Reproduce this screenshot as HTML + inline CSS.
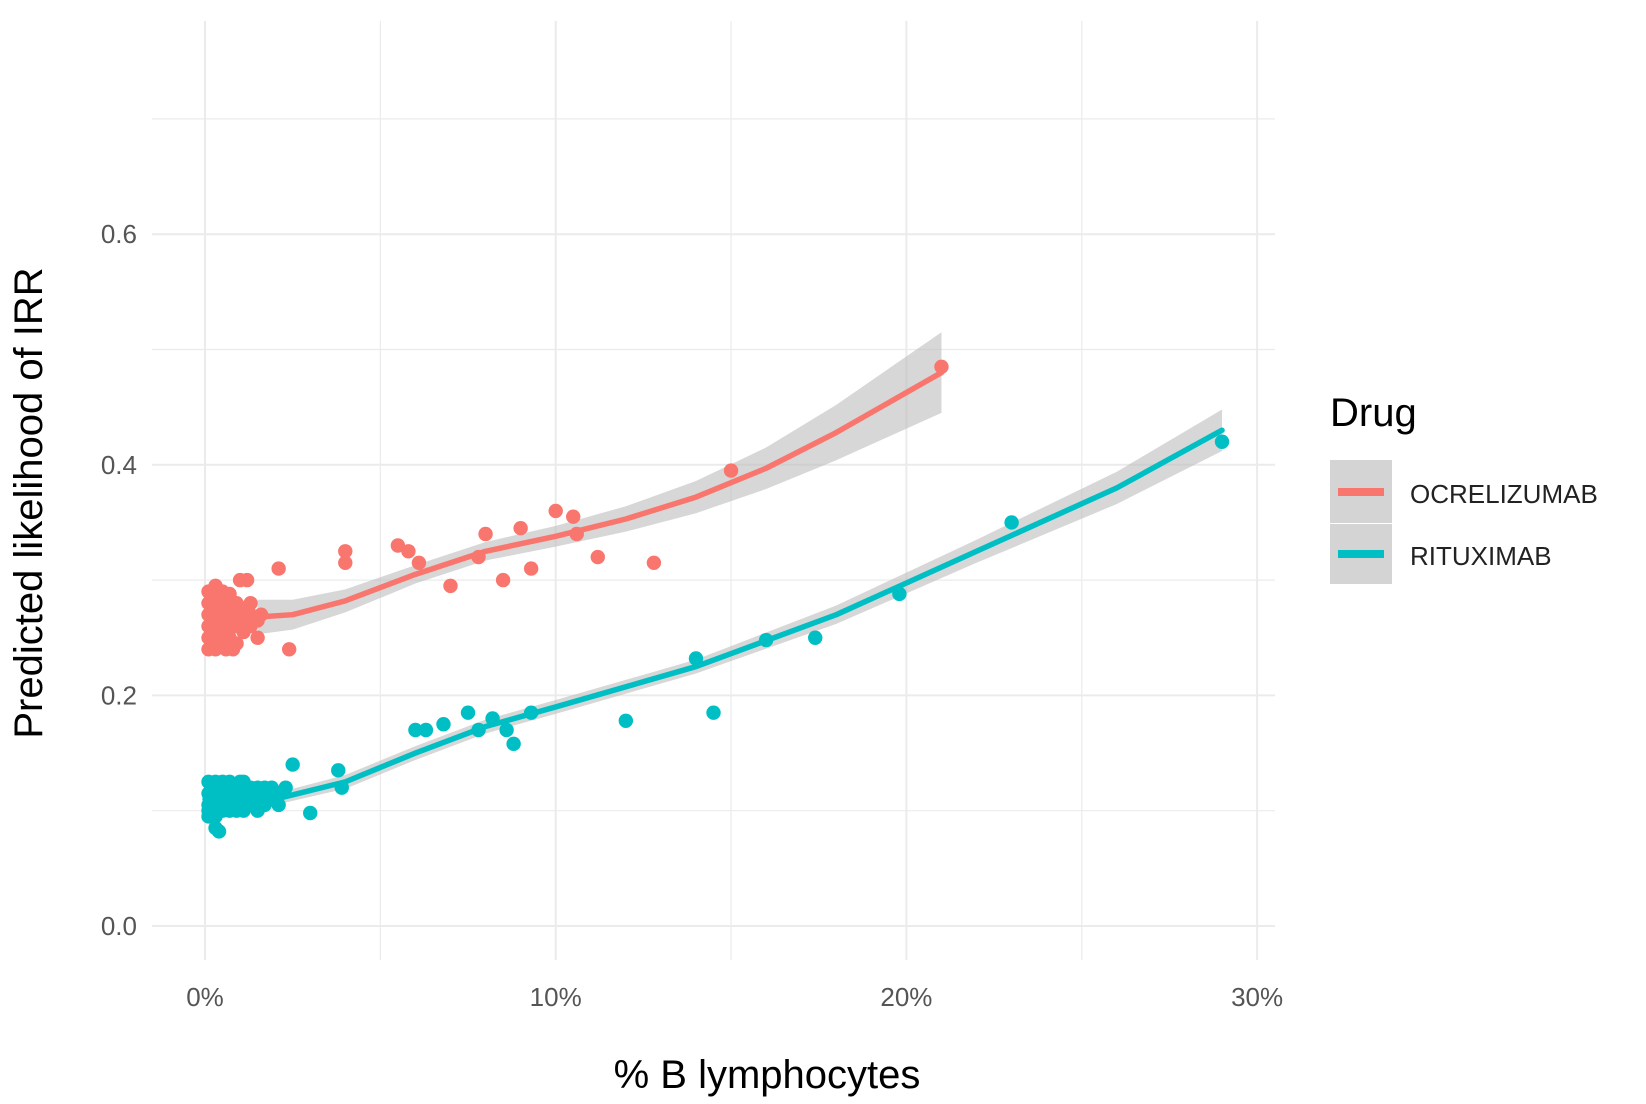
<!DOCTYPE html>
<html><head><meta charset="utf-8"><style>
body{margin:0;background:#fff;}
svg{display:block;font-family:"Liberation Sans",sans-serif;}
</style></head><body>
<svg id="chart" width="1646" height="1104">
<g id="grid"></g>
<g id="bands"></g>
<g id="pts"></g>
<g id="lines"></g>
<g id="ticks"></g>
<text x="42" y="503" transform="rotate(-90 42 503)" text-anchor="middle" font-size="40" fill="#000">Predicted likelihood of IRR</text>
<text x="767" y="1088" text-anchor="middle" font-size="40" fill="#000">% B lymphocytes</text>
<g>
<text x="1330" y="426" font-size="40" fill="#000">Drug</text>
<rect x="1330" y="460" width="62" height="63" fill="#d4d4d4"/>
<rect x="1330" y="524" width="62" height="60" fill="#d4d4d4"/>
<line x1="1338" x2="1384" y1="492" y2="492" stroke="#F8766D" stroke-width="8"/>
<line x1="1338" x2="1384" y1="554" y2="554" stroke="#00BFC4" stroke-width="8"/>
<text x="1410" y="503" font-size="26" fill="#222">OCRELIZUMAB</text>
<text x="1410" y="565" font-size="26" fill="#222">RITUXIMAB</text>
</g>
</svg>
<script>
const xTicks=[0,10,20,30];
const xTickLabels=["0%","10%","20%","30%"];
const yTicks=[0,0.2,0.4,0.6];
const yTickLabels=["0.0","0.2","0.4","0.6"];
const ocrX=[0.1,0.1,0.1,0.1,0.1,0.1,0.3,0.3,0.3,0.3,0.3,0.3,0.3,0.5,0.5,0.5,0.5,0.5,0.5,0.7,0.7,0.7,0.7,0.7,0.9,0.9,0.9,0.9,1.1,1.1,1.1,1.3,1.3,1.3,1.5,1.5,1.6,1.2,0.6,0.4,0.8,1.0,2.1,2.4,4.0,4.0,5.5,5.8,6.1,7.0,7.8,8.0,8.5,9.0,9.3,10.0,10.5,10.6,11.2,12.8,15.0,21.0];
const ocrY=[0.24,0.25,0.26,0.27,0.28,0.29,0.24,0.25,0.26,0.27,0.28,0.29,0.295,0.245,0.255,0.265,0.275,0.285,0.29,0.25,0.26,0.27,0.28,0.288,0.245,0.26,0.27,0.28,0.255,0.265,0.275,0.26,0.27,0.28,0.25,0.265,0.27,0.3,0.24,0.245,0.24,0.3,0.31,0.24,0.325,0.315,0.33,0.325,0.315,0.295,0.32,0.34,0.30,0.345,0.31,0.36,0.355,0.34,0.32,0.315,0.395,0.485];
const ritX=[0.1,0.1,0.1,0.1,0.1,0.3,0.3,0.3,0.3,0.3,0.3,0.5,0.5,0.5,0.5,0.5,0.7,0.7,0.7,0.7,0.9,0.9,0.9,0.9,1.1,1.1,1.1,1.1,1.3,1.3,1.3,1.5,1.5,1.5,1.7,1.7,1.7,1.9,1.9,2.1,2.1,2.3,0.4,1.0,2.5,3.0,3.8,3.9,6.0,6.3,6.8,7.5,7.8,8.2,8.6,8.8,9.3,12.0,14.0,14.5,16.0,17.4,19.8,23.0,29.0];
const ritY=[0.095,0.105,0.115,0.125,0.1,0.085,0.095,0.105,0.115,0.125,0.11,0.1,0.11,0.12,0.125,0.105,0.1,0.11,0.12,0.125,0.1,0.11,0.12,0.115,0.1,0.11,0.12,0.125,0.105,0.115,0.12,0.1,0.11,0.12,0.105,0.115,0.12,0.11,0.12,0.105,0.115,0.12,0.082,0.125,0.14,0.098,0.135,0.12,0.17,0.17,0.175,0.185,0.17,0.18,0.17,0.158,0.185,0.178,0.232,0.185,0.248,0.25,0.288,0.35,0.42];
const ocrLineX=[1.5,2.5,4,6,8,10,12,14,16,18,21];
const ocrLineY=[0.268,0.27,0.282,0.305,0.325,0.338,0.353,0.372,0.397,0.428,0.48];
const ocrBand=[0.015,0.013,0.01,0.008,0.008,0.009,0.011,0.014,0.018,0.024,0.035];
const ritLineX=[0,2,4,6,8,10,14,18,22,26,29];
const ritLineY=[0.11,0.11,0.125,0.15,0.173,0.19,0.225,0.27,0.325,0.38,0.43];
const ritBand=[0.006,0.005,0.006,0.006,0.006,0.006,0.006,0.008,0.01,0.014,0.018];

const X=v=>205+v*35.07;
const Y=v=>926-v*1153;
const NS="http://www.w3.org/2000/svg";
function mk(parent,tag,attrs){const e=document.createElementNS(NS,tag);for(const k in attrs)e.setAttribute(k,attrs[k]);document.getElementById(parent).appendChild(e);return e;}
for(let v=0;v<=0.7001;v+=0.1){const g=mk('grid','line',{x1:152,x2:1275,y1:Y(v),y2:Y(v),stroke:'#ebebeb','stroke-width':Math.round(v*10)%2===0?2:1.2});

}
for(let v=0;v<=30;v+=5){const g=mk('grid','line',{x1:X(v),x2:X(v),y1:21,y2:960,stroke:'#ebebeb','stroke-width':v%10===0?2:1.2});

}
xTicks.forEach((t,i)=>{const e=mk('ticks','text',{x:X(t),y:1006,'text-anchor':'middle','font-size':26,fill:'#555'});e.textContent=xTickLabels[i];

});
yTicks.forEach((t,i)=>{const e=mk('ticks','text',{x:137,y:Y(t)+9,'text-anchor':'end','font-size':26,fill:'#555'});e.textContent=yTickLabels[i];

});
function band(lx,ly,b,name){let d='';lx.forEach((x,i)=>d+=(i?'L':'M')+X(x)+','+Y(ly[i]+b[i]));for(let i=lx.length-1;i>=0;i--)d+='L'+X(lx[i])+','+Y(ly[i]-b[i]);d+='Z';
const e=mk('bands','path',{d:d,fill:'#bdbdbd','fill-opacity':0.6});

}
band(ocrLineX,ocrLineY,ocrBand,'ocrelizumab-band');
band(ritLineX,ritLineY,ritBand,'rituximab-band');
function pts(xs,ys,col,name){xs.forEach((x,i)=>{const e=mk('pts','circle',{cx:X(x),cy:Y(ys[i]),r:7.2,fill:col});

});}
pts(ocrX,ocrY,'#F8766D','ocrelizumab-point');
pts(ritX,ritY,'#00BFC4','rituximab-point');
function line(lx,ly,col,name){const p=lx.map((x,i)=>X(x)+','+Y(ly[i])).join(' ');
const e=mk('lines','polyline',{points:p,fill:'none',stroke:col,'stroke-width':5.5,'stroke-linejoin':'round','stroke-linecap':'round'});

}
line(ocrLineX,ocrLineY,'#F8766D','ocrelizumab-line');
line(ritLineX,ritLineY,'#00BFC4','rituximab-line');
</script>
</body></html>
